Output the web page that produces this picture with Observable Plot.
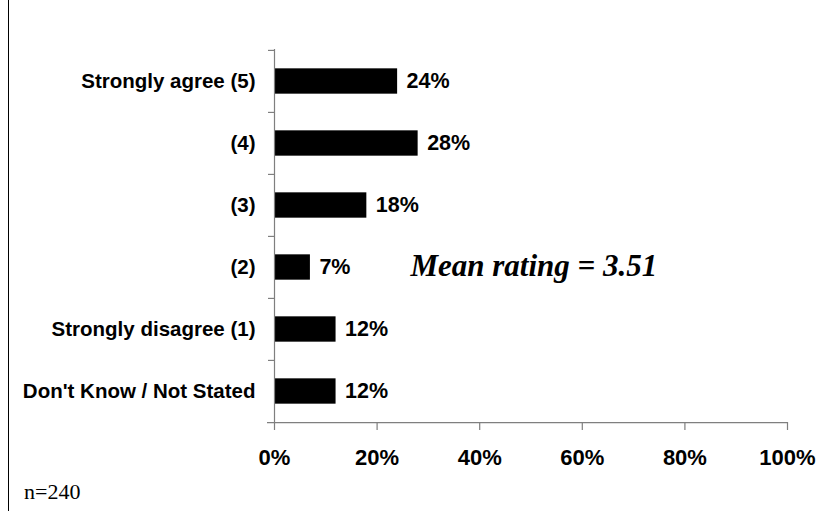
<!DOCTYPE html>
<html>
<head>
<meta charset="utf-8">
<script src="https://cdn.jsdelivr.net/npm/d3@7"></script>
<script src="https://cdn.jsdelivr.net/npm/@observablehq/plot@0.6"></script>
<style>
  html, body { margin: 0; padding: 0; background: #fff; }
  #wrap { position: relative; width: 832px; height: 511px; overflow: hidden; }
  #leftline { position: absolute; left: 8px; top: 0; width: 1px; height: 511px; background: #000; }
  #chart { position: absolute; left: 0; top: 0; }
  #note { position: absolute; left: 24px; top: 481px; font-family: "Liberation Serif", "Times New Roman", serif; font-size: 22px; color: #000; line-height: 1; }
</style>
</head>
<body>
<div id="wrap">
  <div id="chart"></div>
  <div id="leftline"></div>
  <div id="note">n=240</div>
</div>
<script>
const categories = ["Strongly agree (5)", "(4)", "(3)", "(2)", "Strongly disagree (1)", "Don't Know / Not Stated"];
const shares = [0.24, 0.28, 0.18, 0.07, 0.12, 0.12];
const xTicks = [0, 0.2, 0.4, 0.6, 0.8, 1.0];
const meanLabel = "Mean rating = 3.51";
const meanAnchor = {category: "(2)", share: 0.265};

const data = categories.map((c, i) => ({category: c, share: shares[i]}));

const H = 480, MT = 49, MB = 58;
const step = (H - MT - MB) / categories.length;
const grey = "#7f7f7f";

const chart = Plot.plot({
  width: 832,
  height: H,
  marginLeft: 274,
  marginRight: 45,
  marginTop: MT,
  marginBottom: MB,
  style: {fontFamily: "'Liberation Sans', Arial, sans-serif", fontWeight: "bold", color: "#000", background: "#fff"},
  x: {domain: [0, 1]},
  y: {domain: categories, paddingInner: 0, paddingOuter: 0},
  marks: [
    Plot.barX(data, {x: "share", y: "category", fill: "#000", insetTop: (step - 25.5) / 2, insetBottom: (step - 25.5) / 2}),
    // y axis line
    Plot.ruleX([0], {stroke: grey, strokeWidth: 1.2}),
    // x axis line (bottom boundary), extends left as a tick
    Plot.ruleY([categories[categories.length - 1]], {x1: () => 0, x2: () => 1, dy: step / 2, insetLeft: -7, stroke: grey, strokeWidth: 1.2}),
    // category boundary ticks
    Plot.ruleY(categories, {x1: () => 0, x2: () => 0, dy: -step / 2, insetLeft: -6, stroke: grey, strokeWidth: 1.2}),
    Plot.axisY({tickSize: 0, tickPadding: 19, fontSize: 20.5, fontWeight: "bold", fill: "#000", label: null}),
    Plot.axisX({ticks: xTicks, tickFormat: d3.format(".0%"), tickSize: 8, tickPadding: 19, stroke: grey, strokeWidth: 1.2, fontSize: 22, fontWeight: "bold", fill: "#000", label: null}),
    Plot.text(data, {x: "share", y: "category", text: d => d3.format(".0%")(d.share), textAnchor: "start", dx: 9, fontSize: 21.5, fontWeight: "bold", fill: "#000"}),
    Plot.text([meanAnchor], {x: "share", y: "category", text: () => meanLabel, textAnchor: "start", fontSize: 31, fontWeight: "bold", fontStyle: "italic", fontFamily: "'Liberation Serif', 'Times New Roman', serif", fill: "#000", dy: -1})
  ]
});
document.getElementById("chart").appendChild(chart);
</script>
</body>
</html>
